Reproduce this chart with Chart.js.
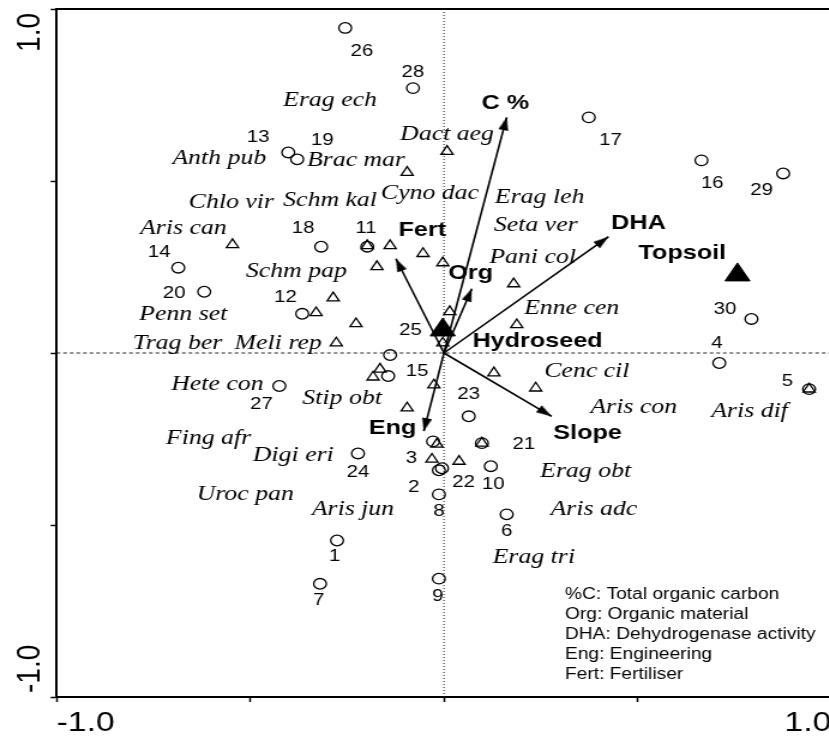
<!DOCTYPE html>
<html>
<head>
<meta charset="utf-8">
<script src="https://cdn.jsdelivr.net/npm/chart.js@4/dist/chart.umd.min.js"></script>
<style>
  html, body { margin: 0; padding: 0; background: #fff; overflow: hidden; }
  #frame { position: relative; width: 829px; height: 736px; overflow: hidden; }
  #plot { display: block; }
</style>
</head>
<body>
<div id="frame">
<canvas id="plot" width="697" height="736" style="width:836.4px;height:736px"></canvas>
</div>
<script>
// ---- Sample (site) scores, samples 1-30 ----
const siteIds = [1, 2, 3, 4, 5, 6, 7, 8, 9, 10, 11, 12, 13, 14, 15,
                 16, 17, 18, 19, 20, 21, 22, 23, 24, 25, 26, 27, 28, 29, 30];
const siteX = [-0.276, -0.013, -0.028, 0.711, 0.943, 0.162, -0.320, -0.013, -0.013, 0.121,
               -0.198, -0.366, -0.402, -0.686, -0.144, 0.665, 0.374, -0.317, -0.379, -0.619,
               0.098, -0.005, 0.064, -0.222, -0.139, -0.255, -0.425, -0.080, 0.876, 0.794];
const siteY = [-0.545, -0.341, -0.257, -0.029, -0.105, -0.469, -0.671, -0.411, -0.656, -0.329,
               0.309, 0.114, 0.583, 0.248, -0.067, 0.560, 0.685, 0.309, 0.563, 0.178,
               -0.262, -0.335, -0.184, -0.292, -0.006, 0.945, -0.096, 0.770, 0.522, 0.099];

// ---- Species scores (open triangles) ----
const speciesX = [-0.546, 0.008, -0.095, -0.198, -0.139, -0.054, -0.173, -0.003, 0.180,
                  -0.286, -0.330, -0.227, -0.278, 0.015, -0.003, 0.188, -0.165, -0.183,
                  -0.095, -0.026, 0.129, 0.237, -0.031, 0.039, -0.018, 0.943, 0.098];
const speciesY = [0.315, 0.586, 0.525, 0.312, 0.312, 0.289, 0.251, 0.262, 0.201,
                  0.160, 0.117, 0.085, 0.029, 0.120, 0.029, 0.082, -0.047, -0.070,
                  -0.160, -0.093, -0.058, -0.102, -0.309, -0.315, -0.265, -0.105, -0.262];

// ---- Species names and where they are written ----
const speciesNames = ['Erag ech', 'Dact aeg', 'Anth pub', 'Brac mar', 'Chlo vir', 'Schm kal',
                      'Cyno dac', 'Erag leh', 'Seta ver', 'Aris can', 'Pani col', 'Schm pap',
                      'Enne cen', 'Penn set', 'Trag ber', 'Meli rep', 'Cenc cil', 'Hete con',
                      'Stip obt', 'Aris con', 'Aris dif', 'Fing afr', 'Digi eri', 'Erag obt',
                      'Uroc pan', 'Aris jun', 'Aris adc', 'Erag tri'];
const speciesLabelX = [-0.294, 0.008, -0.580, -0.227, -0.549, -0.294,
                       -0.036, 0.247, 0.237, -0.673, 0.229, -0.381,
                       0.330, -0.673, -0.688, -0.428, 0.369, -0.585,
                       -0.263, 0.490, 0.789, -0.608, -0.389, 0.366,
                       -0.513, -0.235, 0.387, 0.232];
const speciesLabelY = [0.735, 0.636, 0.566, 0.560, 0.437, 0.443,
                       0.464, 0.452, 0.370, 0.362, 0.277, 0.236,
                       0.131, 0.111, 0.029, 0.029, -0.052, -0.090,
                       -0.131, -0.157, -0.169, -0.248, -0.297, -0.344,
                       -0.411, -0.455, -0.455, -0.595];

// ---- Environmental vectors (arrow tips) ----
const envNames = ['C %', 'DHA', 'Fert', 'Org', 'Eng', 'Slope'];
const envX = [0.162, 0.425, -0.124, 0.072, -0.052, 0.278];
const envY = [0.685, 0.338, 0.274, 0.187, -0.227, -0.184];

// ---- Treatment centroids (filled triangles) ----
const centroidNames = ['Hydroseed', 'Topsoil'];
const centroidX = [-0.003, 0.758];
const centroidY = [0.067, 0.227];

// ---- Axes ----
const axisTicks = [-1, -0.5, 0, 0.5, 1];
const axisTickText = { '-1': '-1.0', '1': '1.0' };

// ---- Abbreviation notes ----
const notes = ['%C: Total organic carbon', 'Org: Organic material',
               'DHA: Dehydrogenase activity', 'Eng: Engineering', 'Fert: Fertiliser'];

// Label placement (pixel offsets from each mark)
const siteLabelOffset = {
  1: [-2, 16], 2: [-21, 17], 3: [-18, 17], 4: [-2, -20], 5: [-18, -8],
  6: [0, 17], 7: [-1, 16], 8: [0, 17], 9: [-1, 18], 10: [2, 18],
  11: [-1, -18], 12: [-14, -16], 13: [-25, -15], 14: [-16, -15], 15: [24, -5],
  16: [9, 23], 17: [18, 23], 18: [-15, -18], 19: [21, -19], 20: [-25, 2],
  21: [35, 1], 22: [18, 14], 23: [0, -22], 24: [0, 19], 25: [17, -25],
  26: [14, 23], 27: [-15, 18], 28: [0, -16], 29: [-18, 17], 30: [-22, -10]
};
const envLabelOffset = {
  'C %': [-1, -14], 'DHA': [25, -14], 'Fert': [22, -29],
  'Org': [-1, -15], 'Eng': [-26, -3], 'Slope': [30, 17]
};
const centroidLabelOffset = { 'Hydroseed': [79, 11], 'Topsoil': [-46, -22] };

const SANS = '"Liberation Sans", Arial, Helvetica, sans-serif';
const SERIF = '"Liberation Serif", "Times New Roman", Times, serif';

const pts = (xs, ys) => xs.map((x, i) => ({ x, y: ys[i] }));

// Arrowhead sprite: tip at the sprite centre, pointing up
const arrowHead = (() => {
  const c = document.createElement('canvas');
  c.width = 28; c.height = 28;
  const g = c.getContext('2d');
  g.fillStyle = '#000';
  g.beginPath();
  g.moveTo(14, 14);
  g.lineTo(18.2, 27);
  g.lineTo(9.8, 27);
  g.closePath();
  g.fill();
  return c;
})();

function headRotation(ctx) {
  const p = ctx.raw;
  if (!p) return 0;
  const xs = ctx.chart.scales.x, ys = ctx.chart.scales.y;
  const dx = xs.getPixelForValue(p.x) - xs.getPixelForValue(0);
  const dy = ys.getPixelForValue(p.y) - ys.getPixelForValue(0);
  return Math.atan2(dx, -dy) * 180 / Math.PI;
}

const vectorLines = envNames.map((n, i) => ({
  label: n,
  data: [{ x: 0, y: 0 }, { x: envX[i], y: envY[i] }],
  showLine: true,
  borderColor: '#000',
  borderWidth: 1.6,
  pointRadius: 0,
  order: 5
}));

const datasets = [
  // zero reference lines
  { label: 'x0', data: [{ x: 0, y: -1 }, { x: 0, y: 1 }], showLine: true,
    borderColor: '#222', borderWidth: 1, borderDash: [1, 2], pointRadius: 0, order: 9 },
  { label: 'y0', data: [{ x: -1, y: 0 }, { x: 1, y: 0 }], showLine: true,
    borderColor: '#222', borderWidth: 1, borderDash: [3, 2.5], pointRadius: 0, order: 9 },
  ...vectorLines,
  { label: 'species', data: pts(speciesX, speciesY), pointStyle: 'triangle',
    pointRadius: 5.8, borderColor: '#000', borderWidth: 1.3,
    backgroundColor: 'rgba(0,0,0,0)', order: 4 },
  { label: 'sites', data: pts(siteX, siteY), pointStyle: 'circle',
    pointRadius: 5.3, borderColor: '#000', borderWidth: 1.3,
    backgroundColor: 'rgba(0,0,0,0)', order: 3 },
  { label: 'centroids', data: pts(centroidX, centroidY), pointStyle: 'triangle',
    pointRadius: 12, borderColor: '#000', borderWidth: 1,
    backgroundColor: '#000', order: 2 },
  { label: 'heads', data: pts(envX, envY), pointStyle: arrowHead,
    pointRadius: 6, pointRotation: headRotation, order: 1 }
];

const textPlugin = {
  id: 'ordinationText',
  afterDatasetsDraw(chart) {
    const { ctx, scales: { x, y } } = chart;
    ctx.save();
    ctx.fillStyle = '#000';
    ctx.textAlign = 'center';
    ctx.textBaseline = 'middle';

    // species names
    ctx.font = 'italic 21.5px ' + SERIF;
    speciesNames.forEach((n, i) => {
      ctx.fillText(n, x.getPixelForValue(speciesLabelX[i]), y.getPixelForValue(speciesLabelY[i]));
    });

    // sample numbers
    ctx.font = '17px ' + SANS;
    siteIds.forEach((id, i) => {
      const o = siteLabelOffset[id];
      ctx.fillText(String(id), x.getPixelForValue(siteX[i]) + o[0], y.getPixelForValue(siteY[i]) + o[1]);
    });

    // vector and centroid names
    ctx.font = 'bold 21px ' + SANS;
    envNames.forEach((n, i) => {
      const o = envLabelOffset[n];
      ctx.fillText(n, x.getPixelForValue(envX[i]) + o[0], y.getPixelForValue(envY[i]) + o[1]);
    });
    centroidNames.forEach((n, i) => {
      const o = centroidLabelOffset[n];
      ctx.fillText(n, x.getPixelForValue(centroidX[i]) + o[0], y.getPixelForValue(centroidY[i]) + o[1]);
    });

    // abbreviation notes
    ctx.font = '16px ' + SANS;
    ctx.textAlign = 'left';
    notes.forEach((t, i) => ctx.fillText(t, 471, 595 + i * 20));

    // vertical axis end labels, rotated
    ctx.font = '28px ' + SANS;
    ctx.textBaseline = 'alphabetic';
    const lx = 33;
    ctx.save();
    ctx.translate(lx, y.getPixelForValue(1) + 4);
    ctx.rotate(-Math.PI / 2);
    ctx.textAlign = 'right';
    ctx.fillText(axisTickText['1'], 0, 0);
    ctx.restore();
    ctx.save();
    ctx.translate(lx, y.getPixelForValue(-1) - 4);
    ctx.rotate(-Math.PI / 2);
    ctx.textAlign = 'left';
    ctx.fillText(axisTickText['-1'], 0, 0);
    ctx.restore();

    ctx.restore();
  }
};

new Chart(document.getElementById('plot'), {
  type: 'scatter',
  data: { datasets },
  options: {
    responsive: false,
    devicePixelRatio: 1,
    animation: false,
    layout: { autoPadding: false, padding: { top: 9, right: 0, left: 0, bottom: 0 } },
    plugins: { legend: { display: false }, tooltip: { enabled: false } },
    scales: {
      x: {
        type: 'linear', position: 'bottom', min: -1, max: 1,
        afterBuildTicks: s => { s.ticks = axisTicks.map(v => ({ value: v })); },
        afterFit: s => { s.height = 39; },
        grid: { display: true, drawOnChartArea: false, drawTicks: true,
                tickLength: 5, tickColor: '#000', tickWidth: 1.5 },
        border: { display: true, color: '#000', width: 2 },
        ticks: { autoSkip: false, maxRotation: 0, minRotation: 0, align: 'inner',
                 padding: 4, color: '#000', font: { family: SANS, size: 28 },
                 callback: v => axisTickText[String(v)] || '' }
      },
      x2: {
        type: 'linear', axis: 'x', position: 'top', min: -1, max: 1,
        afterFit: s => { s.height = 0; },
        grid: { display: false },
        ticks: { display: false },
        border: { display: true, color: '#000', width: 2 }
      },
      y: {
        type: 'linear', position: 'left', min: -1, max: 1,
        afterBuildTicks: s => { s.ticks = axisTicks.map(v => ({ value: v })); },
        afterFit: s => { s.width = 47.25; },
        grid: { display: true, drawOnChartArea: false, drawTicks: true,
                tickLength: 5, tickColor: '#000', tickWidth: 1.5 },
        border: { display: true, color: '#000', width: 2 },
        ticks: { display: false }
      }
    }
  },
  plugins: [textPlugin]
});
</script>
</body>
</html>
